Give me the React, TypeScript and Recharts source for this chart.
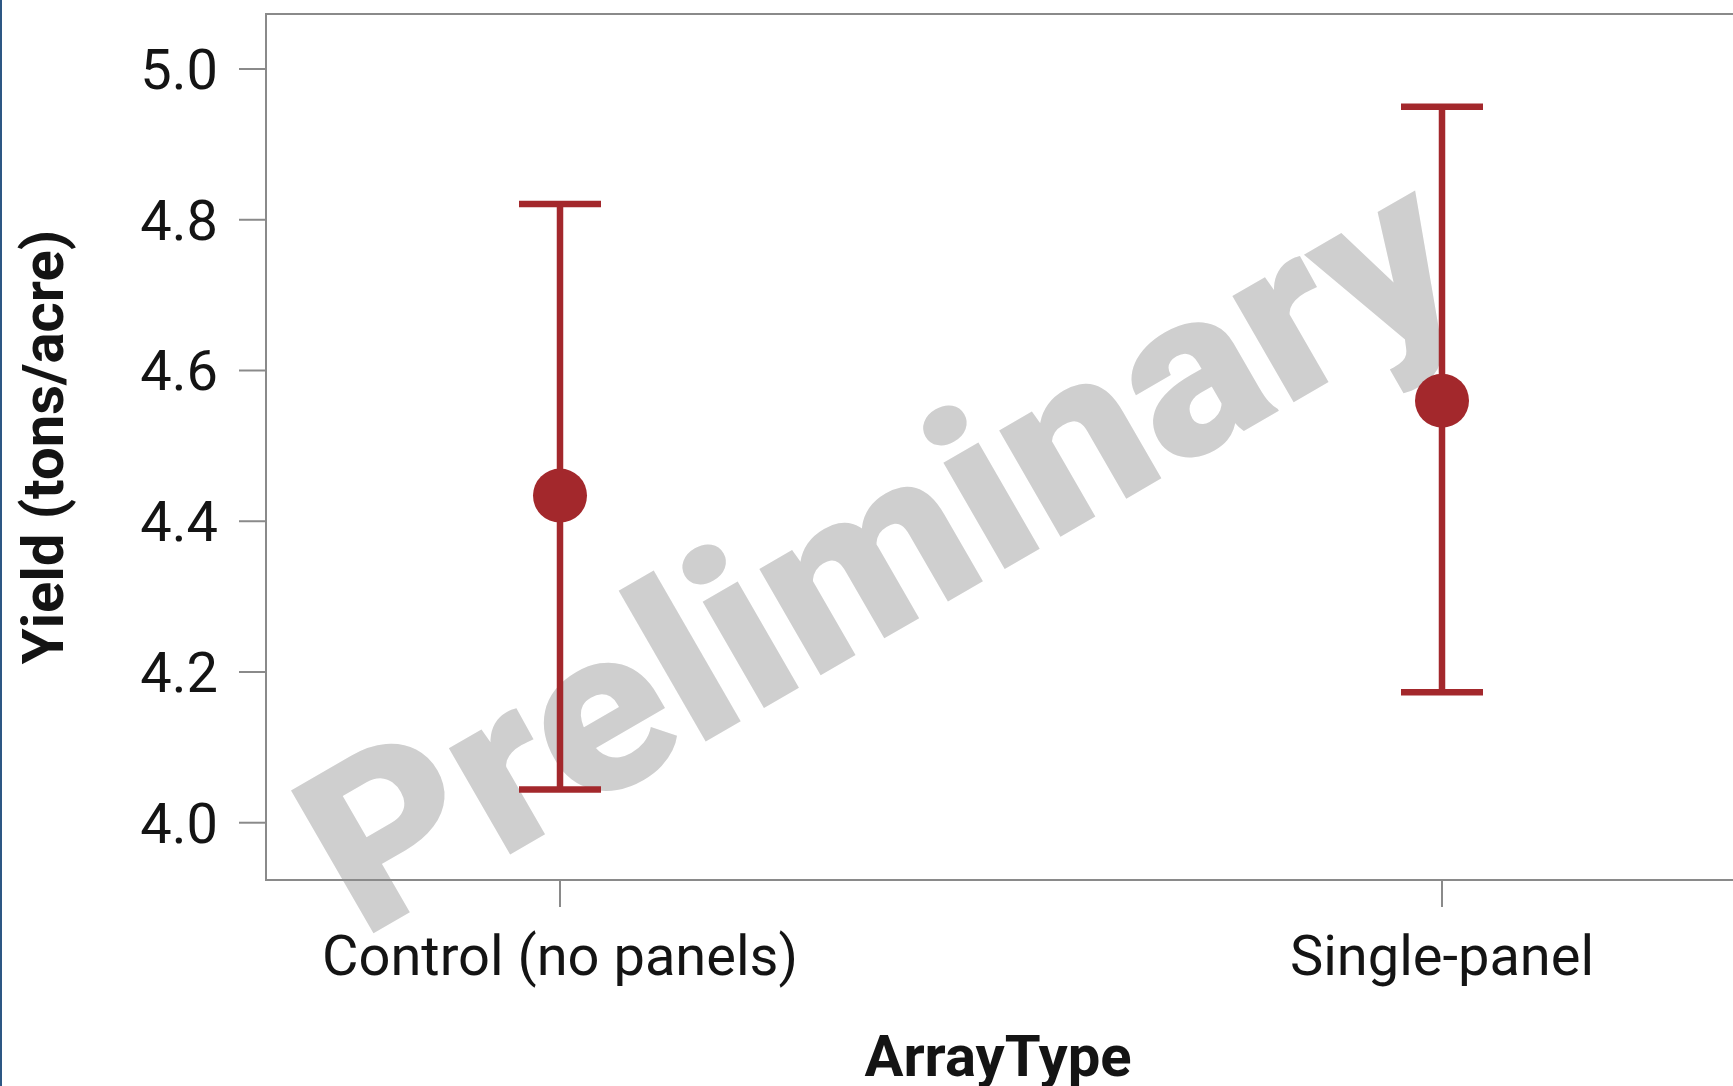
import { ScatterChart, Scatter, XAxis, YAxis, ErrorBar, ReferenceArea, Label } from 'recharts'

const categories = ['Control (no panels)', 'Single-panel']
const means = [4.434, 4.56]
const lows = [4.044, 4.173]
const highs = [4.821, 4.95]
const yTicks = [4.0, 4.2, 4.4, 4.6, 4.8, 5.0]

const RED = '#a3282c'
const AXIS = '#8a8a8a'
const TEXT = '#141414'
const FONT = 'Roboto, "Liberation Sans", Arial, sans-serif'

const Y_MIN = 3.924
const Y_MAX = 5.073
const X_MIN = -1 / 3
const X_MAX = 4 / 3

const data = categories.map((name, i) => ({
  x: i,
  name,
  y: means[i],
  err: [means[i] - lows[i], highs[i] - means[i]],
}))

const Dot = (props: any) => {
  const { cx, cy } = props
  if (cx == null || cy == null) return null
  return <circle cx={cx} cy={cy} r={27} fill={RED} />
}

export default function App() {
  return (
    <div
      style={{
        position: 'fixed',
        left: 0,
        top: 0,
        width: 1733,
        height: 1086,
        overflow: 'hidden',
        background: '#fff',
      }}
    >
      {/* watermark sits behind the chart */}
      <svg width={1733} height={1086} style={{ position: 'absolute', left: 0, top: 0 }}>
        <g transform="translate(362, 940) rotate(-30) scale(1.055, 1)">
          <text
            x={0}
            y={0}
            fontFamily="Roboto, Arial, sans-serif"
            fontWeight={900}
            fontSize={232}
            fill="#cfcfcf"
          >
            Preliminary
          </text>
        </g>
      </svg>
      <div style={{ position: 'absolute', left: 0, top: 0, width: 2, height: 1086, background: '#2d5784' }} />
      <div style={{ position: 'absolute', left: 0, top: 0 }}>
        <ScatterChart width={1760} height={1086} margin={{ top: 14, right: 24, left: 0, bottom: 0 }}>
          <XAxis
            type="number"
            dataKey="x"
            domain={[X_MIN, X_MAX]}
            ticks={[0, 1]}
            allowDataOverflow
            tickFormatter={(v: number) => categories[v] ?? ''}
            height={206}
            axisLine={false}
            tickSize={27}
            tickMargin={28}
            tickLine={{ stroke: AXIS, strokeWidth: 2 }}
            tick={{ fill: TEXT, fontSize: 56, fontFamily: FONT }}
          >
            <Label
              content={(p: any) => {
                const vb = p.viewBox
                return (
                  <text
                    x={vb.x + vb.width / 2 - 3}
                    y={vb.y + 196}
                    textAnchor="middle"
                    fontFamily={FONT}
                    fontWeight="bold"
                    fontSize={58}
                    fill={TEXT}
                  >
                    ArrayType
                  </text>
                )
              }}
            />
          </XAxis>
          <YAxis
            type="number"
            dataKey="y"
            domain={[Y_MIN, Y_MAX]}
            ticks={yTicks}
            allowDataOverflow
            tickFormatter={(v: number) => v.toFixed(1)}
            width={266}
            axisLine={false}
            tickSize={27}
            tickMargin={21}
            tickLine={{ stroke: AXIS, strokeWidth: 2 }}
            tick={{ fill: TEXT, fontSize: 56, fontFamily: FONT }}
          >
            <Label
              content={(p: any) => {
                const vb = p.viewBox
                const cx = vb.x + 63
                const cy = vb.y + vb.height / 2
                return (
                  <text
                    x={cx}
                    y={cy}
                    transform={`rotate(-90, ${cx}, ${cy})`}
                    textAnchor="middle"
                    fontFamily={FONT}
                    fontWeight="bold"
                    fontSize={58}
                    fill={TEXT}
                  >
                    Yield (tons/acre)
                  </text>
                )
              }}
            />
          </YAxis>
          <ReferenceArea
            x1={X_MIN}
            x2={X_MAX}
            y1={Y_MIN}
            y2={Y_MAX}
            fill="none"
            stroke={AXIS}
            strokeWidth={2}
            ifOverflow="visible"
          />
          <Scatter data={data} shape={Dot} isAnimationActive={false}>
            <ErrorBar dataKey="err" direction="y" width={41} stroke={RED} strokeWidth={6.5} />
          </Scatter>
        </ScatterChart>
      </div>
    </div>
  )
}
